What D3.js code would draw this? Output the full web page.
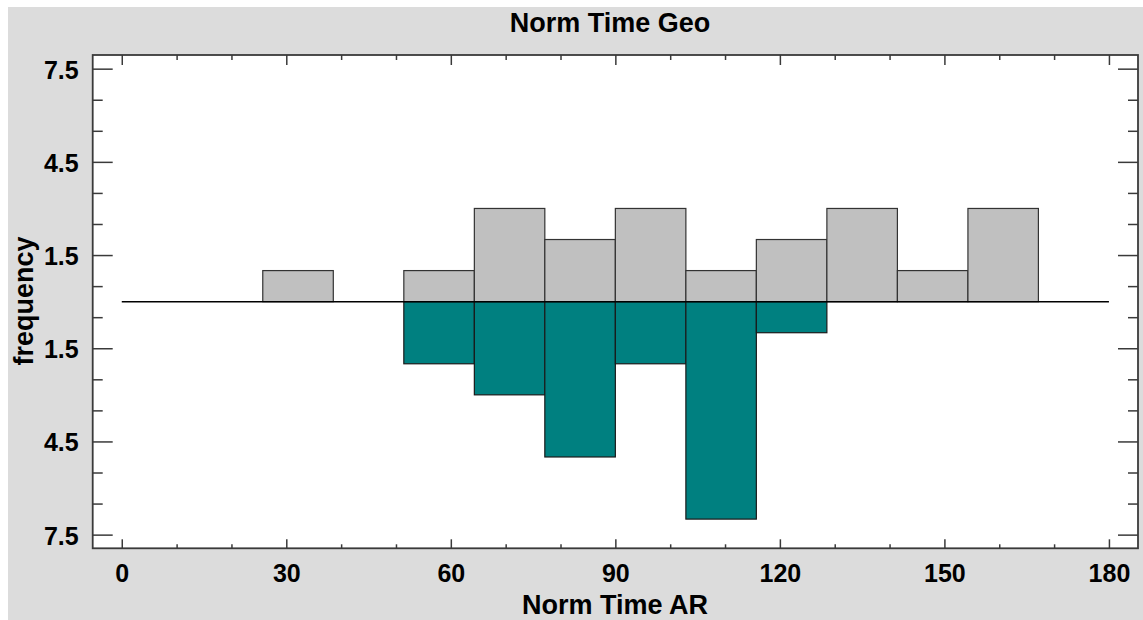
<!DOCTYPE html>
<html>
<head>
<meta charset="utf-8">
<script src="https://cdn.jsdelivr.net/npm/d3@7"></script>
<style>
  body {margin: 0; background: #fff;}
  svg text {font-family: "Liberation Sans", Arial, sans-serif; font-weight: bold; fill: #000;}
  .tick line {stroke: #3a3a3a; stroke-width: 1.5;}
</style>
</head>
<body>
<div class="chartWrap"></div>
<script>
//Data
const binStart = [0, 12.86, 25.71, 38.57, 51.43, 64.29, 77.14, 90, 102.86, 115.71, 128.57, 141.43, 154.29, 167.14];
const binEnd   = [12.86, 25.71, 38.57, 51.43, 64.29, 77.14, 90, 102.86, 115.71, 128.57, 141.43, 154.29, 167.14, 180];
const geoCounts = [0, 0, 1, 0, 1, 3, 2, 3, 1, 2, 3, 1, 3, 0]; //upper half, Norm Time Geo
const arCounts  = [0, 0, 0, 0, 2, 3, 5, 2, 7, 1, 0, 0, 0, 0]; //lower half, Norm Time AR
const xTicks = [0, 30, 60, 90, 120, 150, 180];
const xMinor = [10, 20, 40, 50, 70, 80, 100, 110, 130, 140, 160, 170];
const yTicks = [-7.5, -4.5, -1.5, 1.5, 4.5, 7.5];
const yMinor = [-6.5, -5.5, -3.5, -2.5, -0.5, 0.5, 2.5, 3.5, 5.5, 6.5];

//Layout
const W = 1143, H = 620;
const frame = {left: 92.7, right: 1138, top: 55, bottom: 548.3};

let svg = d3.select(".chartWrap").append("svg").attr("width", W).attr("height", H);
svg.append("rect").attr("x", 8).attr("y", 7).attr("width", W - 8).attr("height", H - 7).attr("fill", "#dcdcdc");
svg.append("rect").attr("x", frame.left).attr("y", frame.top)
  .attr("width", frame.right - frame.left).attr("height", frame.bottom - frame.top).attr("fill", "#fff");

//Scales
let x = d3.scaleLinear().domain([-5.3, 185.3]).range([frame.left, frame.right]);
let y = d3.scaleLinear().domain([-7.94, 7.94]).range([frame.bottom, frame.top]);

//Bars
let bins = binStart.map((s, i) => ({s: s, e: binEnd[i], geo: geoCounts[i], ar: arCounts[i]}));
svg.selectAll(".geo").data(bins.filter(d => d.geo > 0)).enter().append("rect")
  .attr("class", "geo")
  .attr("x", d => x(d.s)).attr("width", d => x(d.e) - x(d.s))
  .attr("y", d => y(d.geo)).attr("height", d => y(0) - y(d.geo))
  .attr("fill", "#c0c0c0").attr("stroke", "#333").attr("stroke-width", 1.2);
svg.selectAll(".ar").data(bins.filter(d => d.ar > 0)).enter().append("rect")
  .attr("class", "ar")
  .attr("x", d => x(d.s)).attr("width", d => x(d.e) - x(d.s))
  .attr("y", y(0)).attr("height", d => y(-d.ar) - y(0))
  .attr("fill", "#008080").attr("stroke", "#1a1a1a").attr("stroke-width", 1.2);

//Baseline
svg.append("line").attr("x1", x(0)).attr("x2", x(180)).attr("y1", y(0)).attr("y2", y(0))
  .attr("stroke", "#000").attr("stroke-width", 1.5);

//Axes
function noDomain(g) {g.select(".domain").remove();}
let fmtY = d => Math.abs(d).toFixed(1);

svg.append("g").attr("transform", `translate(${frame.left},0)`)
  .call(d3.axisLeft(y).tickValues(yTicks).tickSizeInner(-20).tickSizeOuter(0).tickPadding(14).tickFormat(fmtY))
  .call(noDomain)
  .call(g => g.selectAll("text").attr("font-size", 25).attr("dy", "0.38em"));
svg.append("g").attr("transform", `translate(${frame.left},0)`)
  .call(d3.axisLeft(y).tickValues(yMinor).tickSizeInner(-10).tickSizeOuter(0).tickFormat(""))
  .call(noDomain);
svg.append("g").attr("transform", `translate(${frame.right},0)`)
  .call(d3.axisRight(y).tickValues(yTicks).tickSizeInner(-20).tickSizeOuter(0).tickFormat(""))
  .call(noDomain);
svg.append("g").attr("transform", `translate(${frame.right},0)`)
  .call(d3.axisRight(y).tickValues(yMinor).tickSizeInner(-10).tickSizeOuter(0).tickFormat(""))
  .call(noDomain);

svg.append("g").attr("transform", `translate(0,${frame.bottom})`)
  .call(d3.axisBottom(x).tickValues(xTicks).tickSizeInner(-9).tickSizeOuter(0).tickPadding(16).tickFormat(d3.format("d")))
  .call(noDomain)
  .call(g => g.selectAll("text").attr("font-size", 25));
svg.append("g").attr("transform", `translate(0,${frame.bottom})`)
  .call(d3.axisBottom(x).tickValues(xMinor).tickSizeInner(-4).tickSizeOuter(0).tickFormat(""))
  .call(noDomain);
svg.append("g").attr("transform", `translate(0,${frame.top})`)
  .call(d3.axisTop(x).tickValues(xTicks).tickSizeInner(-10).tickSizeOuter(0).tickFormat(""))
  .call(noDomain);
svg.append("g").attr("transform", `translate(0,${frame.top})`)
  .call(d3.axisTop(x).tickValues(xMinor).tickSizeInner(-5).tickSizeOuter(0).tickFormat(""))
  .call(noDomain);

//Frame
svg.append("rect").attr("x", frame.left).attr("y", frame.top)
  .attr("width", frame.right - frame.left).attr("height", frame.bottom - frame.top)
  .attr("fill", "none").attr("stroke", "#3a3a3a").attr("stroke-width", 1.8);

//Titles
svg.append("text").text("Norm Time Geo").attr("x", 610).attr("y", 32).attr("text-anchor", "middle").attr("font-size", 27);
svg.append("text").text("Norm Time AR").attr("x", 615).attr("y", 614).attr("text-anchor", "middle").attr("font-size", 27);
svg.append("text").text("frequency").attr("transform", "translate(33,301) rotate(-90)").attr("text-anchor", "middle").attr("font-size", 27);
</script>
</body>
</html>
